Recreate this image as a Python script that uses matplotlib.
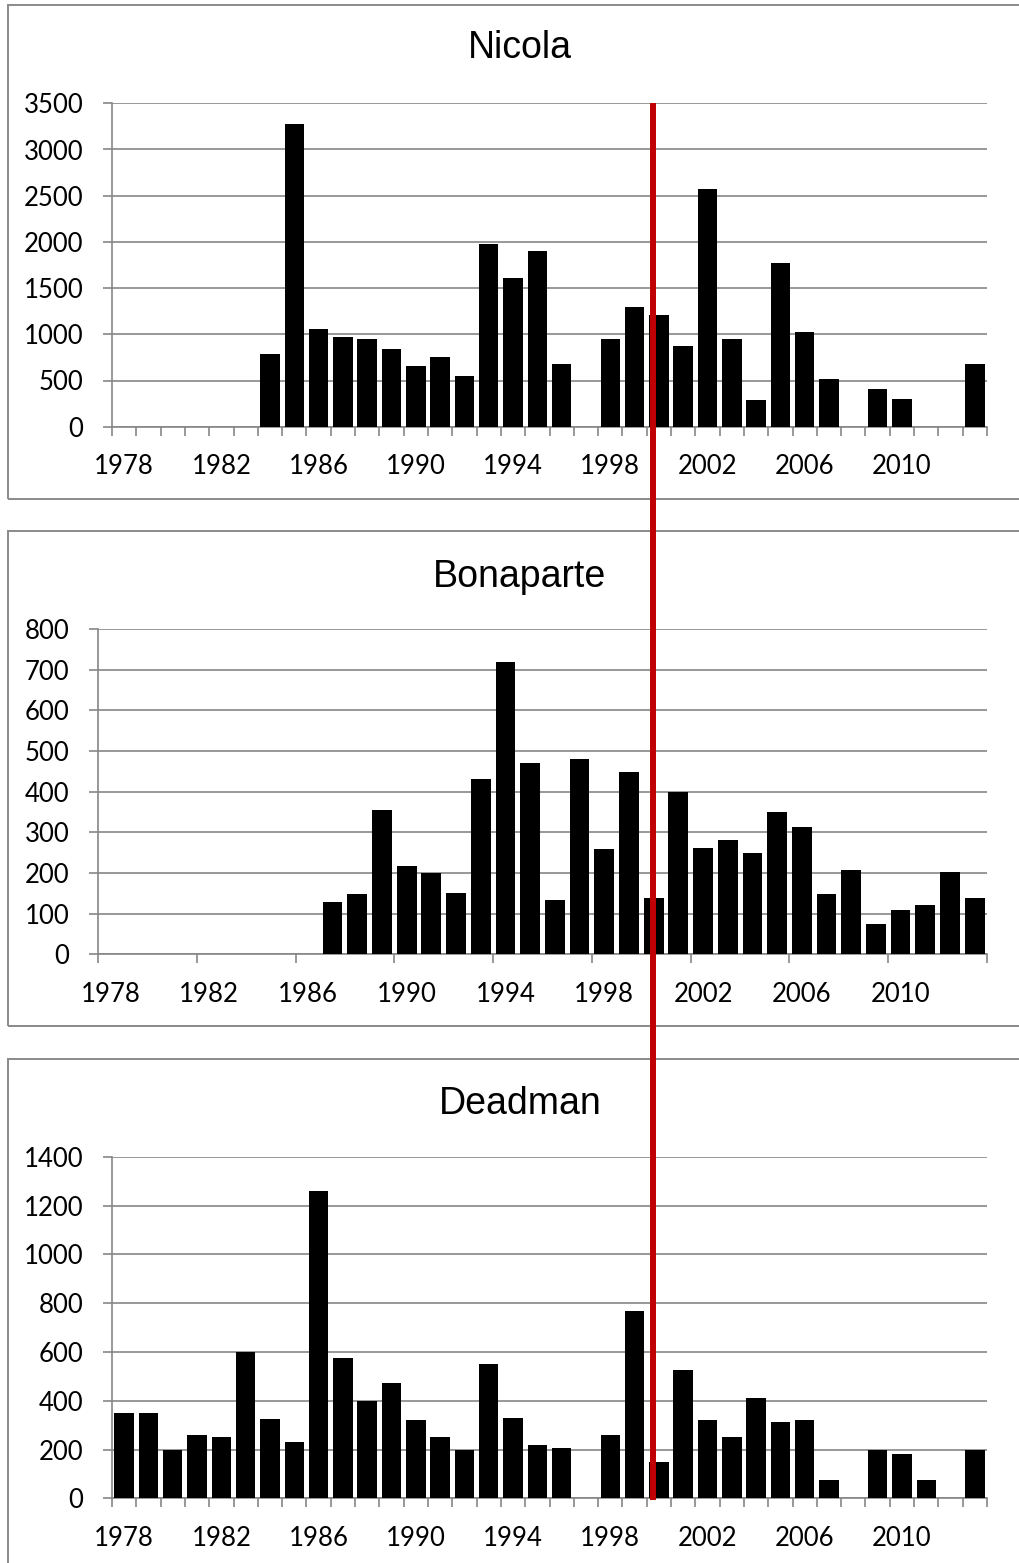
import numpy as np
import matplotlib.pyplot as plt
from matplotlib.patches import Rectangle
from matplotlib.lines import Line2D

# data, one value per year 1978-2013 (0 = no bar)
years = list(range(1978, 2014))

nicola = [0, 0, 0, 0, 0, 0, 790, 3280, 1060, 970, 950, 840, 655, 750, 545, 1975,
          1605, 1900, 675, 0, 945, 1300, 1205, 875, 2575, 945, 285, 1770, 1025, 515,
          0, 410, 295, 0, 0, 675]
bonaparte = [0, 0, 0, 0, 0, 0, 0, 0, 0, 129, 149, 354, 218, 199, 150, 430,
             720, 470, 134, 480, 259, 449, 139, 400, 261, 280, 249, 350, 313, 148,
             207, 75, 108, 121, 203, 139]
deadman = [350, 350, 200, 261, 250, 600, 324, 229, 1259, 574, 400, 474, 320, 250, 200, 549,
           330, 218, 207, 0, 259, 766, 147, 527, 319, 253, 413, 314, 320, 75,
           0, 200, 180, 74, 0, 200]

titles = ["Nicola", "Bonaparte", "Deadman"]
series = [nicola, bonaparte, deadman]
ymax = [3500, 800, 1400]
ystep = [500, 100, 200]

W, H = 1019, 1563
GRAY = "#868686"

fig = plt.figure(figsize=(W / 100, H / 100), dpi=100)

def px(left, top, right, bottom):
    return [left / W, 1 - bottom / H, (right - left) / W, (bottom - top) / H]

# pixel layout of the three plot areas and their frames
areas = [(112, 103.3, 987, 426.7), (98, 629, 987, 954.3), (112, 1156.7, 987, 1498.3)]
frames = [(8, 5, 1040, 498.5), (8, 531, 1040, 1026), (8, 1059, 1040, 1600)]
title_y = [48, 577, 1104]
every_tick = [True, False, True]

x = np.arange(len(years))

for i in range(3):
    l, t, r, b = frames[i]
    fig.patches.append(Rectangle((l / W, 1 - b / H), (r - l) / W, (b - t) / H,
                                 transform=fig.transFigure, fill=False,
                                 edgecolor="#8a8a8a", linewidth=1.4))

    ax = fig.add_axes(px(*areas[i]))
    ax.bar(x, series[i], width=0.8, color="black", zorder=3)
    ax.set_xlim(-0.5, len(years) - 0.5)
    ax.set_ylim(0, ymax[i])
    ax.set_yticks(np.arange(0, ymax[i] + 1, ystep[i]))
    ax.yaxis.grid(True, color=GRAY, linewidth=1.2)
    ax.set_axisbelow(True)

    ax.set_xticks(x[::4])
    ax.set_xticklabels([str(y) for y in years[::4]])
    if every_tick[i]:
        ax.set_xticks(np.arange(-0.5, len(years)), minor=True)
    else:
        ax.set_xticks(np.arange(-0.5, len(years), 4), minor=True)
    ax.tick_params(axis="x", which="major", length=0, pad=20)
    ax.tick_params(axis="x", which="minor", length=9 * 0.72, width=1.2, color=GRAY)
    ax.tick_params(axis="y", length=9 * 0.72, width=1.2, color=GRAY, pad=14)
    for lab in ax.get_xticklabels() + ax.get_yticklabels():
        lab.set_fontfamily("Lato")
        lab.set_fontsize(18.5)

    for s in ["top", "right"]:
        ax.spines[s].set_visible(False)
    for s in ["left", "bottom"]:
        ax.spines[s].set_color(GRAY)
        ax.spines[s].set_linewidth(1.2)

    fig.text(520 / W, 1 - title_y[i] / H, titles[i], ha="center", va="center",
             fontsize=27, family="Liberation Sans")

# red divider line spanning all three charts
fig.add_artist(Line2D([653 / W, 653 / W], [1 - 103 / H, 1 - 1500 / H],
                      transform=fig.transFigure, color="#c00000", linewidth=4.3,
                      solid_capstyle="butt", zorder=10))

fig.savefig("out.png", dpi=100)
